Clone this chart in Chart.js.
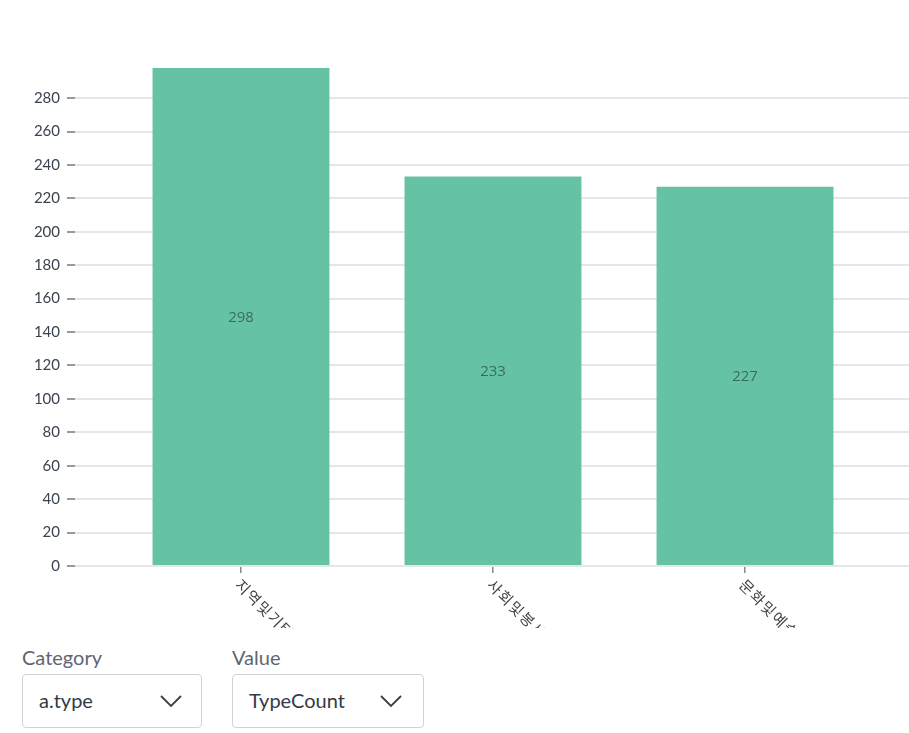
<!DOCTYPE html>
<html>
<head>
<meta charset="utf-8">
<script src="https://cdn.jsdelivr.net/npm/chart.js@4.4.1/dist/chart.umd.min.js"></script>
<style>
  html, body { margin: 0; padding: 0; background: #fff; }
  body { width: 909px; height: 733px; position: relative; overflow: hidden; font-family: Lato, "Open Sans", sans-serif; }
  #wrap { position: absolute; left: 0; top: 0; width: 909px; height: 628px; }
  .ctl { position: absolute; top: 644px; }
  .ctl .lbl { font-size: 20px; color: #5d6573; line-height: 26px; height: 30px; }
  .ctl .box { box-sizing: border-box; height: 54px; border: 1px solid #cfd2d6; border-radius: 4px; position: relative; font-size: 20px; color: #333a44; }
  .ctl .box span { position: absolute; left: 16px; top: 13px; }
  .ctl .box svg { position: absolute; top: 18px; }
</style>
</head>
<body>
<div id="wrap"><canvas id="c"></canvas></div>
<div class="ctl" style="left:22px;">
  <div class="lbl">Category</div>
  <div class="box" style="width:180px;"><span>a.type</span>
    <svg width="24" height="16" style="left:136px;"><polyline points="2,3 12,13 22,3" fill="none" stroke="#3a3f47" stroke-width="1.8"/></svg>
  </div>
</div>
<div class="ctl" style="left:232px;">
  <div class="lbl">Value</div>
  <div class="box" style="width:192px;"><span>TypeCount</span>
    <svg width="24" height="16" style="left:146px;"><polyline points="2,3 12,13 22,3" fill="none" stroke="#3a3f47" stroke-width="1.8"/></svg>
  </div>
</div>
<script>
const categories = ["지역및기타", "사회및봉사", "문화및예술"];
const values = [298, 233, 227];
const yTicksStep = 20;

const points = values.map((v, i) => ({ x: i, y: v }));

const valueLabels = {
  id: 'valueLabels',
  afterDatasetsDraw(chart) {
    const ctx = chart.ctx;
    const meta = chart.getDatasetMeta(0);
    ctx.save();
    ctx.font = '15px "Open Sans", Lato, sans-serif';
    ctx.fillStyle = 'rgba(0,0,0,0.45)';
    ctx.textAlign = 'center';
    ctx.textBaseline = 'middle';
    meta.data.forEach((bar, i) => {
      const p = bar.getProps(['x', 'y', 'base'], true);
      ctx.fillText(String(values[i]), p.x, (p.y + p.base) / 2 + 1);
    });
    ctx.restore();
  }
};

const xLabels = {
  id: 'xLabels',
  afterDraw(chart) {
    const ctx = chart.ctx;
    const xs = chart.scales.x;
    ctx.save();
    ctx.font = '15px "Noto Sans CJK KR", sans-serif';
    ctx.letterSpacing = '1.5px';
    ctx.fillStyle = '#444';
    ctx.textAlign = 'left';
    ctx.textBaseline = 'middle';
    categories.forEach((c, i) => {
      const x = xs.getPixelForValue(i);
      ctx.save();
      ctx.translate(x - 3, chart.chartArea.bottom + 16);
      ctx.rotate(Math.PI / 4);
      ctx.fillText(c, 0, 0);
      ctx.restore();
    });
    ctx.restore();
  }
};

new Chart(document.getElementById('c'), {
  type: 'bar',
  data: {
    datasets: [{
      data: points,
      backgroundColor: '#66c2a5',
      borderWidth: 0,
      barPercentage: 0.702,
      categoryPercentage: 1
    }]
  },
  plugins: [valueLabels, xLabels],
  options: {
    responsive: true,
    maintainAspectRatio: false,
    animation: false,
    layout: { padding: { top: 68, right: 0, left: 0, bottom: 0 } },
    plugins: { legend: { display: false }, tooltip: { enabled: false } },
    scales: {
      x: {
        type: 'linear',
        offset: false,
        min: -0.6587,
        max: 2.6508,
        afterBuildTicks(s) { s.ticks = categories.map((c, i) => ({ value: i })); },
        ticks: { display: false },
        grid: { offset: false, drawOnChartArea: false, drawTicks: true, tickLength: 7, tickColor: '#888', lineWidth: 1.5 },
        border: { display: false },
        afterFit(s) { s.height = 62; }
      },
      y: {
        min: 0,
        max: Math.max(...values),
        ticks: {
          stepSize: yTicksStep,
          includeBounds: false,
          padding: 7,
          color: '#3b4250',
          font: { family: 'Lato, "Open Sans", sans-serif', size: 15 }
        },
        grid: { color: '#e6e6e6', lineWidth: 2, tickLength: 8, tickColor: '#999' },
        border: { display: false },
        afterFit(s) { s.width = 75; }
      }
    }
  }
});
</script>
</body>
</html>
